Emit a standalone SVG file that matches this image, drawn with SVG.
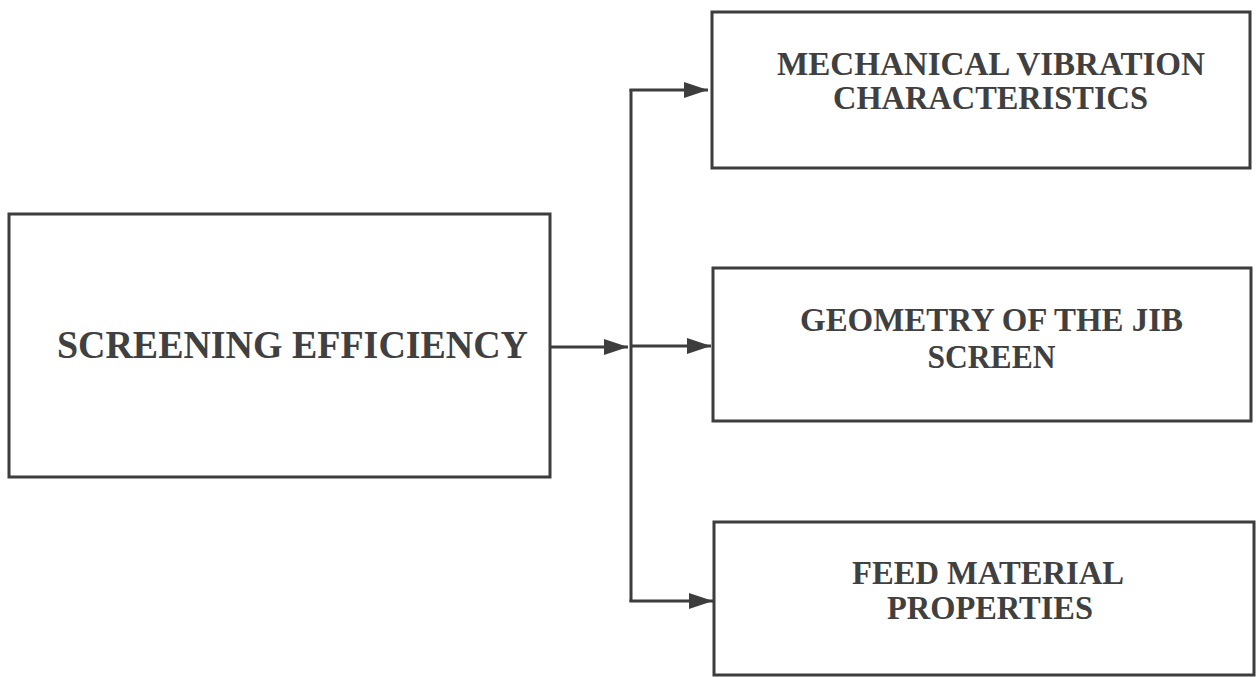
<svg xmlns="http://www.w3.org/2000/svg" width="1257" height="677" viewBox="0 0 1257 677">
  <style>
    .box { fill: #ffffff; stroke: #3d3d3d; stroke-width: 3; }
    .lbl { font-family: "Liberation Serif", "Times New Roman", serif; font-weight: bold; font-size: 33px; fill: #404040; text-anchor: middle; }
    .main { font-size: 40px; }
    .conn { fill: none; stroke: #3d3d3d; stroke-width: 3; }
  </style>
  <defs>
    <marker id="arrow" markerUnits="userSpaceOnUse" markerWidth="24" markerHeight="16" refX="24" refY="8" orient="auto">
      <path d="M0,0 L24,8 L0,16 Z" fill="#3d3d3d"/>
    </marker>
  </defs>
  <rect x="0" y="0" width="1257" height="677" fill="#ffffff"/>

  <g id="node-screening-efficiency">
    <rect class="box" x="9" y="214" width="541" height="263"/>
    <text class="lbl main" x="292.5" y="358" textLength="471" lengthAdjust="spacingAndGlyphs">SCREENING EFFICIENCY</text>
  </g>

  <g id="node-mechanical-vibration">
    <rect class="box" x="712" y="12" width="538" height="156"/>
    <text class="lbl" x="991" y="75" textLength="428" lengthAdjust="spacingAndGlyphs">MECHANICAL VIBRATION</text>
    <text class="lbl" x="990.5" y="109" textLength="315" lengthAdjust="spacingAndGlyphs">CHARACTERISTICS</text>
  </g>

  <g id="node-geometry">
    <rect class="box" x="713" y="268" width="538" height="153"/>
    <text class="lbl" x="991.5" y="331" textLength="383" lengthAdjust="spacingAndGlyphs">GEOMETRY OF THE JIB</text>
    <text class="lbl" x="991.5" y="368" textLength="128" lengthAdjust="spacingAndGlyphs">SCREEN</text>
  </g>

  <g id="node-feed-material">
    <rect class="box" x="714" y="522" width="540" height="153"/>
    <text class="lbl" x="988" y="584" textLength="272" lengthAdjust="spacingAndGlyphs">FEED MATERIAL</text>
    <text class="lbl" x="990" y="619" textLength="206" lengthAdjust="spacingAndGlyphs">PROPERTIES</text>
  </g>

  <g id="connectors">
    <line class="conn" x1="550" y1="347" x2="628" y2="347" marker-end="url(#arrow)"/>
    <line class="conn" x1="631" y1="89" x2="631" y2="602"/>
    <line class="conn" x1="629.5" y1="90" x2="708" y2="90" marker-end="url(#arrow)"/>
    <line class="conn" x1="631" y1="346" x2="711" y2="346" marker-end="url(#arrow)"/>
    <line class="conn" x1="629.5" y1="601" x2="713" y2="601" marker-end="url(#arrow)"/>
  </g>
</svg>
